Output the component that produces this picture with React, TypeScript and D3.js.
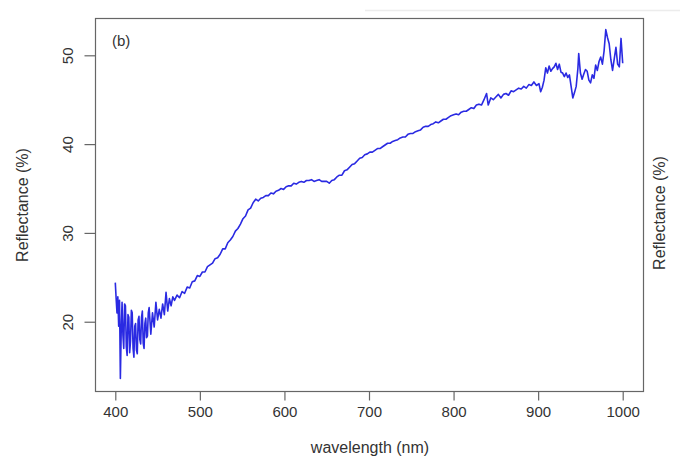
import React, { useEffect, useRef } from 'react';
import * as d3 from 'd3';

// wavelength (nm) and reflectance (%)
const wavelengths = [
  400, 401, 402, 403, 404, 405, 406, 407, 408, 409, 410, 411, 412, 413, 414, 415, 416, 417, 418, 419,
  420, 421, 422, 423, 424, 425, 426, 427, 428, 429, 430, 431, 432, 433, 434, 435, 436, 437, 438, 439,
  440, 442, 444, 446, 448, 450, 452, 454, 456, 458, 460, 462, 464, 466, 468, 470, 473, 476, 479, 482,
  485, 488, 491, 494, 497, 500, 503, 506, 509, 512, 515, 518, 521, 524, 527, 530, 533, 536, 539, 542,
  545, 548, 551, 554, 557, 560, 563, 566, 569, 572, 575, 578, 581, 584, 587, 590, 593, 596, 599, 602,
  605, 608, 611, 614, 617, 620, 623, 626, 629, 632, 635, 638, 641, 644, 647, 650, 653, 656, 659, 662,
  665, 668, 671, 674, 677, 680, 683, 686, 689, 692, 695, 698, 701, 704, 707, 710, 713, 716, 719, 722,
  725, 728, 731, 734, 737, 740, 743, 746, 749, 752, 755, 758, 761, 764, 767, 770, 773, 776, 779, 782,
  785, 788, 791, 794, 797, 800, 803, 806, 809, 812, 815, 818, 821, 824, 827, 830, 833, 836, 839, 841,
  844, 847, 850, 853, 856, 859, 862, 865, 868, 871, 874, 877, 880, 883, 886, 889, 892, 895, 898, 901,
  903, 905, 907, 909, 911, 913, 915, 917, 919, 921, 923, 925, 927, 929, 931, 933, 935, 937, 939, 941,
  943, 945, 947, 948, 950, 952, 954, 956, 958, 960, 962, 964, 966, 968, 970, 972, 974, 976, 978, 980,
  982, 984, 986, 988, 990, 992, 994, 996, 998, 1000,
];

const reflectance = [
  24.4, 22.6, 21.0, 22.8, 19.5, 22.4, 13.6, 19.0, 22.2, 18.5, 17.0, 22.0, 21.8, 17.2, 16.2, 20.8, 20.5, 16.5, 17.8, 21.3,
  21.0, 17.0, 16.0, 19.5, 19.8, 16.8, 16.4, 20.2, 20.6, 18.0, 17.5, 20.5, 21.2, 17.6, 17.0, 19.8, 20.4, 18.2, 18.4, 21.0,
  21.6, 18.6, 21.0, 19.4, 22.2, 20.2, 21.4, 20.4, 22.0, 20.8, 23.3, 21.2, 22.6, 21.8, 22.8, 22.4, 23.0, 22.7, 23.4, 23.2,
  23.9, 23.8, 24.5, 24.6, 25.2, 25.1, 25.6, 25.6, 26.2, 26.4, 26.6, 27.1, 27.2, 27.6, 28.2, 28.2, 28.9, 29.2, 29.6, 30.2,
  30.5, 31.0, 31.6, 31.9, 32.6, 32.8, 33.4, 33.8, 33.6, 33.9, 34.0, 34.2, 34.2, 34.5, 34.4, 34.7, 34.8, 35.0, 34.9, 35.2,
  35.3, 35.3, 35.6, 35.5, 35.7, 35.8, 35.7, 35.9, 35.9, 36.0, 35.8, 35.9, 36.0, 35.8, 35.8, 35.8, 35.6, 35.9, 36.0, 36.3,
  36.5, 36.5, 37.0, 37.1, 37.4, 37.7, 37.8, 38.1, 38.4, 38.5, 38.8, 38.9, 39.1, 39.1, 39.3, 39.5, 39.5, 39.7, 39.9, 40.1,
  40.1, 40.3, 40.4, 40.5, 40.7, 40.8, 40.8, 41.1, 41.2, 41.2, 41.4, 41.5, 41.6, 41.9, 42.0, 42.0, 42.2, 42.3, 42.5, 42.4,
  42.6, 42.8, 42.8, 43.0, 43.2, 43.3, 43.4, 43.3, 43.6, 43.7, 43.7, 43.9, 44.1, 44.0, 44.4, 44.5, 44.4, 45.0, 45.7, 44.4,
  45.2, 45.0, 45.3, 45.6, 45.2, 45.6, 45.7, 45.5, 46.0, 45.9, 46.1, 46.3, 46.2, 46.5, 46.3, 46.7, 46.6, 47.0, 46.6, 46.8,
  45.9, 46.4, 47.2, 48.6, 48.0, 48.8, 48.2, 48.5, 48.7, 49.1, 48.4, 49.0, 48.1, 48.0, 47.6, 48.0, 47.5, 47.8, 46.5, 45.2,
  45.8, 46.5, 48.5, 50.2, 48.0, 47.3, 47.9, 48.4, 48.2, 47.2, 46.9, 47.8, 47.4, 48.9, 48.3, 49.3, 49.8, 49.0, 50.5, 52.9,
  52.0, 51.3, 49.5, 48.3, 49.6, 50.9, 49.0, 48.7, 51.9, 49.1,
];

const xTicks = [400, 500, 600, 700, 800, 900, 1000];
const yTicks = [20, 30, 40, 50];

const App = () => {
  const svgRef = useRef(null);

  useEffect(() => {
    const svg = d3.select(svgRef.current);
    svg.selectAll('*').remove();

    const W = 680;
    const H = 458;
    // plot box
    const box = { left: 95, right: 643, top: 18, bottom: 391 };
    const font = '"Liberation Sans", Arial, Helvetica, sans-serif';

    const x = d3.scaleLinear().domain([376, 1024]).range([box.left, box.right]);
    const y = d3.scaleLinear().domain([12.2, 54.2]).range([box.bottom, box.top]);

    svg.append('rect').attr('width', W).attr('height', H).attr('fill', '#fff');

    // faint scan artefact along the top
    svg.append('line')
      .attr('x1', 365).attr('x2', W)
      .attr('y1', 10.5).attr('y2', 10.5)
      .attr('stroke', '#ececec')
      .attr('stroke-width', 1.5);

    const data = wavelengths.map((w, i) => ({ w, r: reflectance[i] }));

    const line = d3.line()
      .x(d => x(d.w))
      .y(d => y(d.r));

    svg.append('path')
      .datum(data)
      .attr('d', line)
      .attr('fill', 'none')
      .attr('stroke', '#2a2ae2')
      .attr('stroke-width', 1.6)
      .attr('stroke-linejoin', 'round');

    // frame
    svg.append('rect')
      .attr('x', box.left + 0.5)
      .attr('y', box.top + 0.5)
      .attr('width', box.right - box.left)
      .attr('height', box.bottom - box.top)
      .attr('fill', 'none')
      .attr('stroke', '#666')
      .attr('stroke-width', 1.2);

    // x axis
    const xAxis = d3.axisBottom(x).tickValues(xTicks).tickSize(9).tickPadding(6).tickFormat(d3.format('d'));
    const gx = svg.append('g')
      .attr('transform', `translate(0,${box.bottom + 0.5})`)
      .call(xAxis);
    gx.select('.domain').remove();
    gx.selectAll('line').attr('stroke', '#666').attr('stroke-width', 1.2);
    gx.selectAll('text')
      .attr('fill', '#333')
      .style('font-family', font)
      .style('font-size', '15px');

    // y axis, labels rotated like base R graphics
    const yAxis = d3.axisLeft(y).tickValues(yTicks).tickSize(11).tickFormat(d3.format('d'));
    const gy = svg.append('g')
      .attr('transform', `translate(${box.left + 0.5},0)`)
      .call(yAxis);
    gy.select('.domain').remove();
    gy.selectAll('line').attr('stroke', '#666').attr('stroke-width', 1.2);
    gy.selectAll('text')
      .attr('x', null)
      .attr('dy', null)
      .attr('fill', '#333')
      .attr('text-anchor', 'middle')
      .attr('transform', 'translate(-28,0) rotate(-90)')
      .attr('dominant-baseline', 'central')
      .style('font-family', font)
      .style('font-size', '15px');

    // axis titles
    svg.append('text')
      .attr('x', 370)
      .attr('y', 453)
      .attr('text-anchor', 'middle')
      .attr('fill', '#333')
      .style('font-family', font)
      .style('font-size', '16px')
      .text('wavelength (nm)');

    svg.append('text')
      .attr('transform', 'translate(28,205) rotate(-90)')
      .attr('text-anchor', 'middle')
      .attr('fill', '#333')
      .style('font-family', font)
      .style('font-size', '16px')
      .text('Reflectance (%)');

    svg.append('text')
      .attr('transform', 'translate(665,213) rotate(-90)')
      .attr('text-anchor', 'middle')
      .attr('fill', '#333')
      .style('font-family', font)
      .style('font-size', '16px')
      .text('Reflectance (%)');

    // panel tag
    svg.append('text')
      .attr('x', 112)
      .attr('y', 46)
      .attr('fill', '#333')
      .style('font-family', font)
      .style('font-size', '15px')
      .text('(b)');
  }, []);

  return (
    <div style={{ position: 'absolute', left: 0, top: 0 }}>
      <svg ref={svgRef} width={680} height={458} style={{ display: 'block' }}></svg>
    </div>
  );
};

export default App;
